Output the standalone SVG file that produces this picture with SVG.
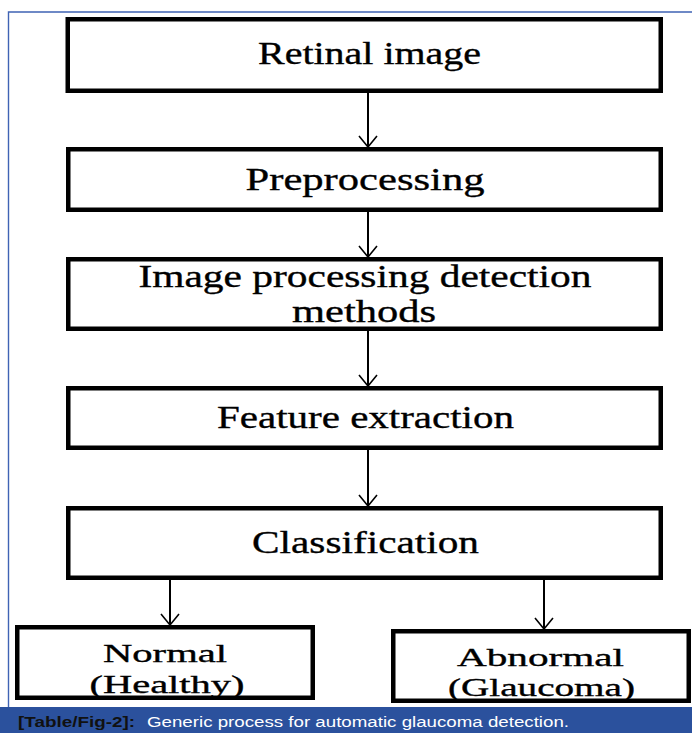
<svg xmlns="http://www.w3.org/2000/svg" width="692" height="733" viewBox="0 0 692 733">
  <defs>
    <style>
      .box { fill: #ffffff; stroke: #000000; stroke-width: 4.5; }
      .lbl { font-family: "Liberation Serif", "Times New Roman", serif; font-size: 31px; fill: #000000; stroke: #000000; stroke-width: 0.35; text-anchor: middle; }
      .sm { font-size: 26px; }
      .wire { stroke: #000000; stroke-width: 2; fill: none; }
      .cap { font-family: "Liberation Sans", Arial, sans-serif; font-size: 14px; }
    </style>
    <!-- open V arrowhead, tip at the end of the line -->
    <marker id="vhead" viewBox="0 0 20 20" refX="18" refY="10" markerWidth="20" markerHeight="20" markerUnits="userSpaceOnUse" orient="auto">
      <path d="M7,1 L18,10 L7,19" fill="none" stroke="#000000" stroke-width="1.6"/>
    </marker>
  </defs>

  <rect x="0" y="0" width="692" height="733" fill="#ffffff"/>

  <!-- thin blue frame -->
  <path d="M8.5,707 L8.5,12 L692,12" fill="none" stroke="#3f63b4" stroke-width="1.4"/>

  <!-- connectors -->
  <g id="connectors">
    <line class="wire" x1="368" y1="93" x2="368" y2="147" marker-end="url(#vhead)"/>
    <line class="wire" x1="368" y1="212" x2="368" y2="257" marker-end="url(#vhead)"/>
    <line class="wire" x1="368" y1="331" x2="368" y2="386" marker-end="url(#vhead)"/>
    <line class="wire" x1="368" y1="450" x2="368" y2="506" marker-end="url(#vhead)"/>
    <line class="wire" x1="170" y1="580" x2="170" y2="625" marker-end="url(#vhead)"/>
    <line class="wire" x1="544" y1="580" x2="544" y2="629" marker-end="url(#vhead)"/>
  </g>

  <g id="retinal-image">
    <rect class="box" x="67.75" y="19.25" width="593" height="71.5"/>
    <text class="lbl" x="369.5" y="64" textLength="223" lengthAdjust="spacingAndGlyphs">Retinal image</text>
  </g>

  <g id="preprocessing">
    <rect class="box" x="68.25" y="149.25" width="592.5" height="60.5"/>
    <text class="lbl" x="365" y="190" textLength="239" lengthAdjust="spacingAndGlyphs">Preprocessing</text>
  </g>

  <g id="detection-methods">
    <rect class="box" x="68.25" y="259.25" width="592.5" height="69.5"/>
    <text class="lbl" x="365" y="287" textLength="453" lengthAdjust="spacingAndGlyphs">Image processing detection</text>
    <text class="lbl" x="364" y="322" textLength="144" lengthAdjust="spacingAndGlyphs">methods</text>
  </g>

  <g id="feature-extraction">
    <rect class="box" x="68.25" y="388.25" width="592.5" height="59.5"/>
    <text class="lbl" x="365.5" y="428" textLength="297" lengthAdjust="spacingAndGlyphs">Feature extraction</text>
  </g>

  <g id="classification">
    <rect class="box" x="68.25" y="508.25" width="592.5" height="69.5"/>
    <text class="lbl" x="365.5" y="553" textLength="227" lengthAdjust="spacingAndGlyphs">Classification</text>
  </g>

  <g id="normal">
    <rect class="box" x="17.25" y="627.25" width="295.5" height="70.5"/>
    <text class="lbl sm" x="165" y="662" textLength="124" lengthAdjust="spacingAndGlyphs">Normal</text>
    <text class="lbl sm" x="167" y="693" textLength="155" lengthAdjust="spacingAndGlyphs">(Healthy)</text>
  </g>

  <g id="abnormal">
    <rect class="box" x="393.25" y="631.25" width="295.5" height="69.5"/>
    <text class="lbl sm" x="540.5" y="666" textLength="167" lengthAdjust="spacingAndGlyphs">Abnormal</text>
    <text class="lbl sm" x="541.5" y="696" textLength="187" lengthAdjust="spacingAndGlyphs">(Glaucoma)</text>
  </g>

  <!-- caption bar -->
  <g id="caption">
    <rect x="0" y="707" width="692" height="26" fill="#2b519d"/>
    <text class="cap" x="18" y="727" font-weight="bold" fill="#111111" textLength="117" lengthAdjust="spacingAndGlyphs">[Table/Fig-2]:</text>
    <text class="cap" x="147" y="727" fill="#ffffff" textLength="422" lengthAdjust="spacingAndGlyphs">Generic process for automatic glaucoma detection.</text>
  </g>
</svg>
